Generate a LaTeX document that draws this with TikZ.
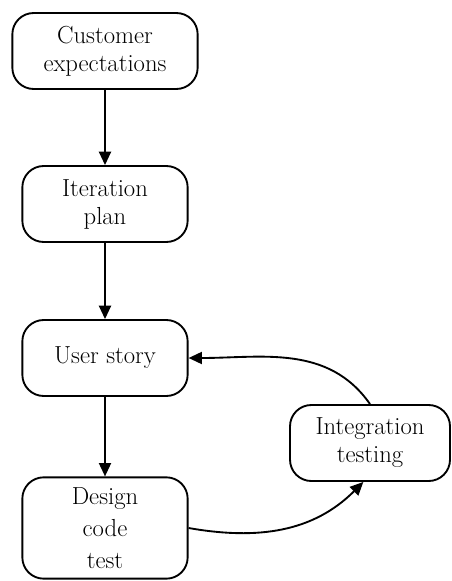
\documentclass[tikz,border=0pt]{standalone}
\usepackage{tikz}
\usetikzlibrary{arrows.meta}

\tikzset{
    stage/.style={draw, line width=1.4pt, rounded corners=16pt, align=center,
        minimum width=124pt, minimum height=57pt, inner sep=2pt,
        font=\fontsize{18.5}{21}\selectfont},
    flow/.style={-{Triangle[length=10pt,width=9pt]}, line width=1.4pt}
}

\begin{document}
\begin{tikzpicture}[x=0.75pt, y=-0.75pt]
        \useasboundingbox (0, 0) rectangle (451, 581);

        \node[stage, minimum width=139pt] (expect) at (105, 51) {Customer\\expectations};
        \node[stage] (plan) at (105, 204) {Iteration\\plan};
        \node[stage] (story) at (105, 358) {User story};
        \node[stage, minimum height=76pt, font=\fontsize{18.5}{24}\selectfont]
            (design) at (105, 528) {Design\\code\\test};
        \node[stage, minimum width=120pt] (integ) at (370, 443) {Integration\\testing};
        \coordinate (integin) at ([xshift=-5pt]integ.south);

        \draw [flow] (expect) -- (plan);
        \draw [flow] (plan) -- (story);
        \draw [flow] (story) -- (design);
        \draw [flow] (design.east) to [out=-10, in=-135] (integin);
        \draw [flow] (integ.north) to [out=125, in=0] (story.east);
    \end{tikzpicture}
\end{document}
